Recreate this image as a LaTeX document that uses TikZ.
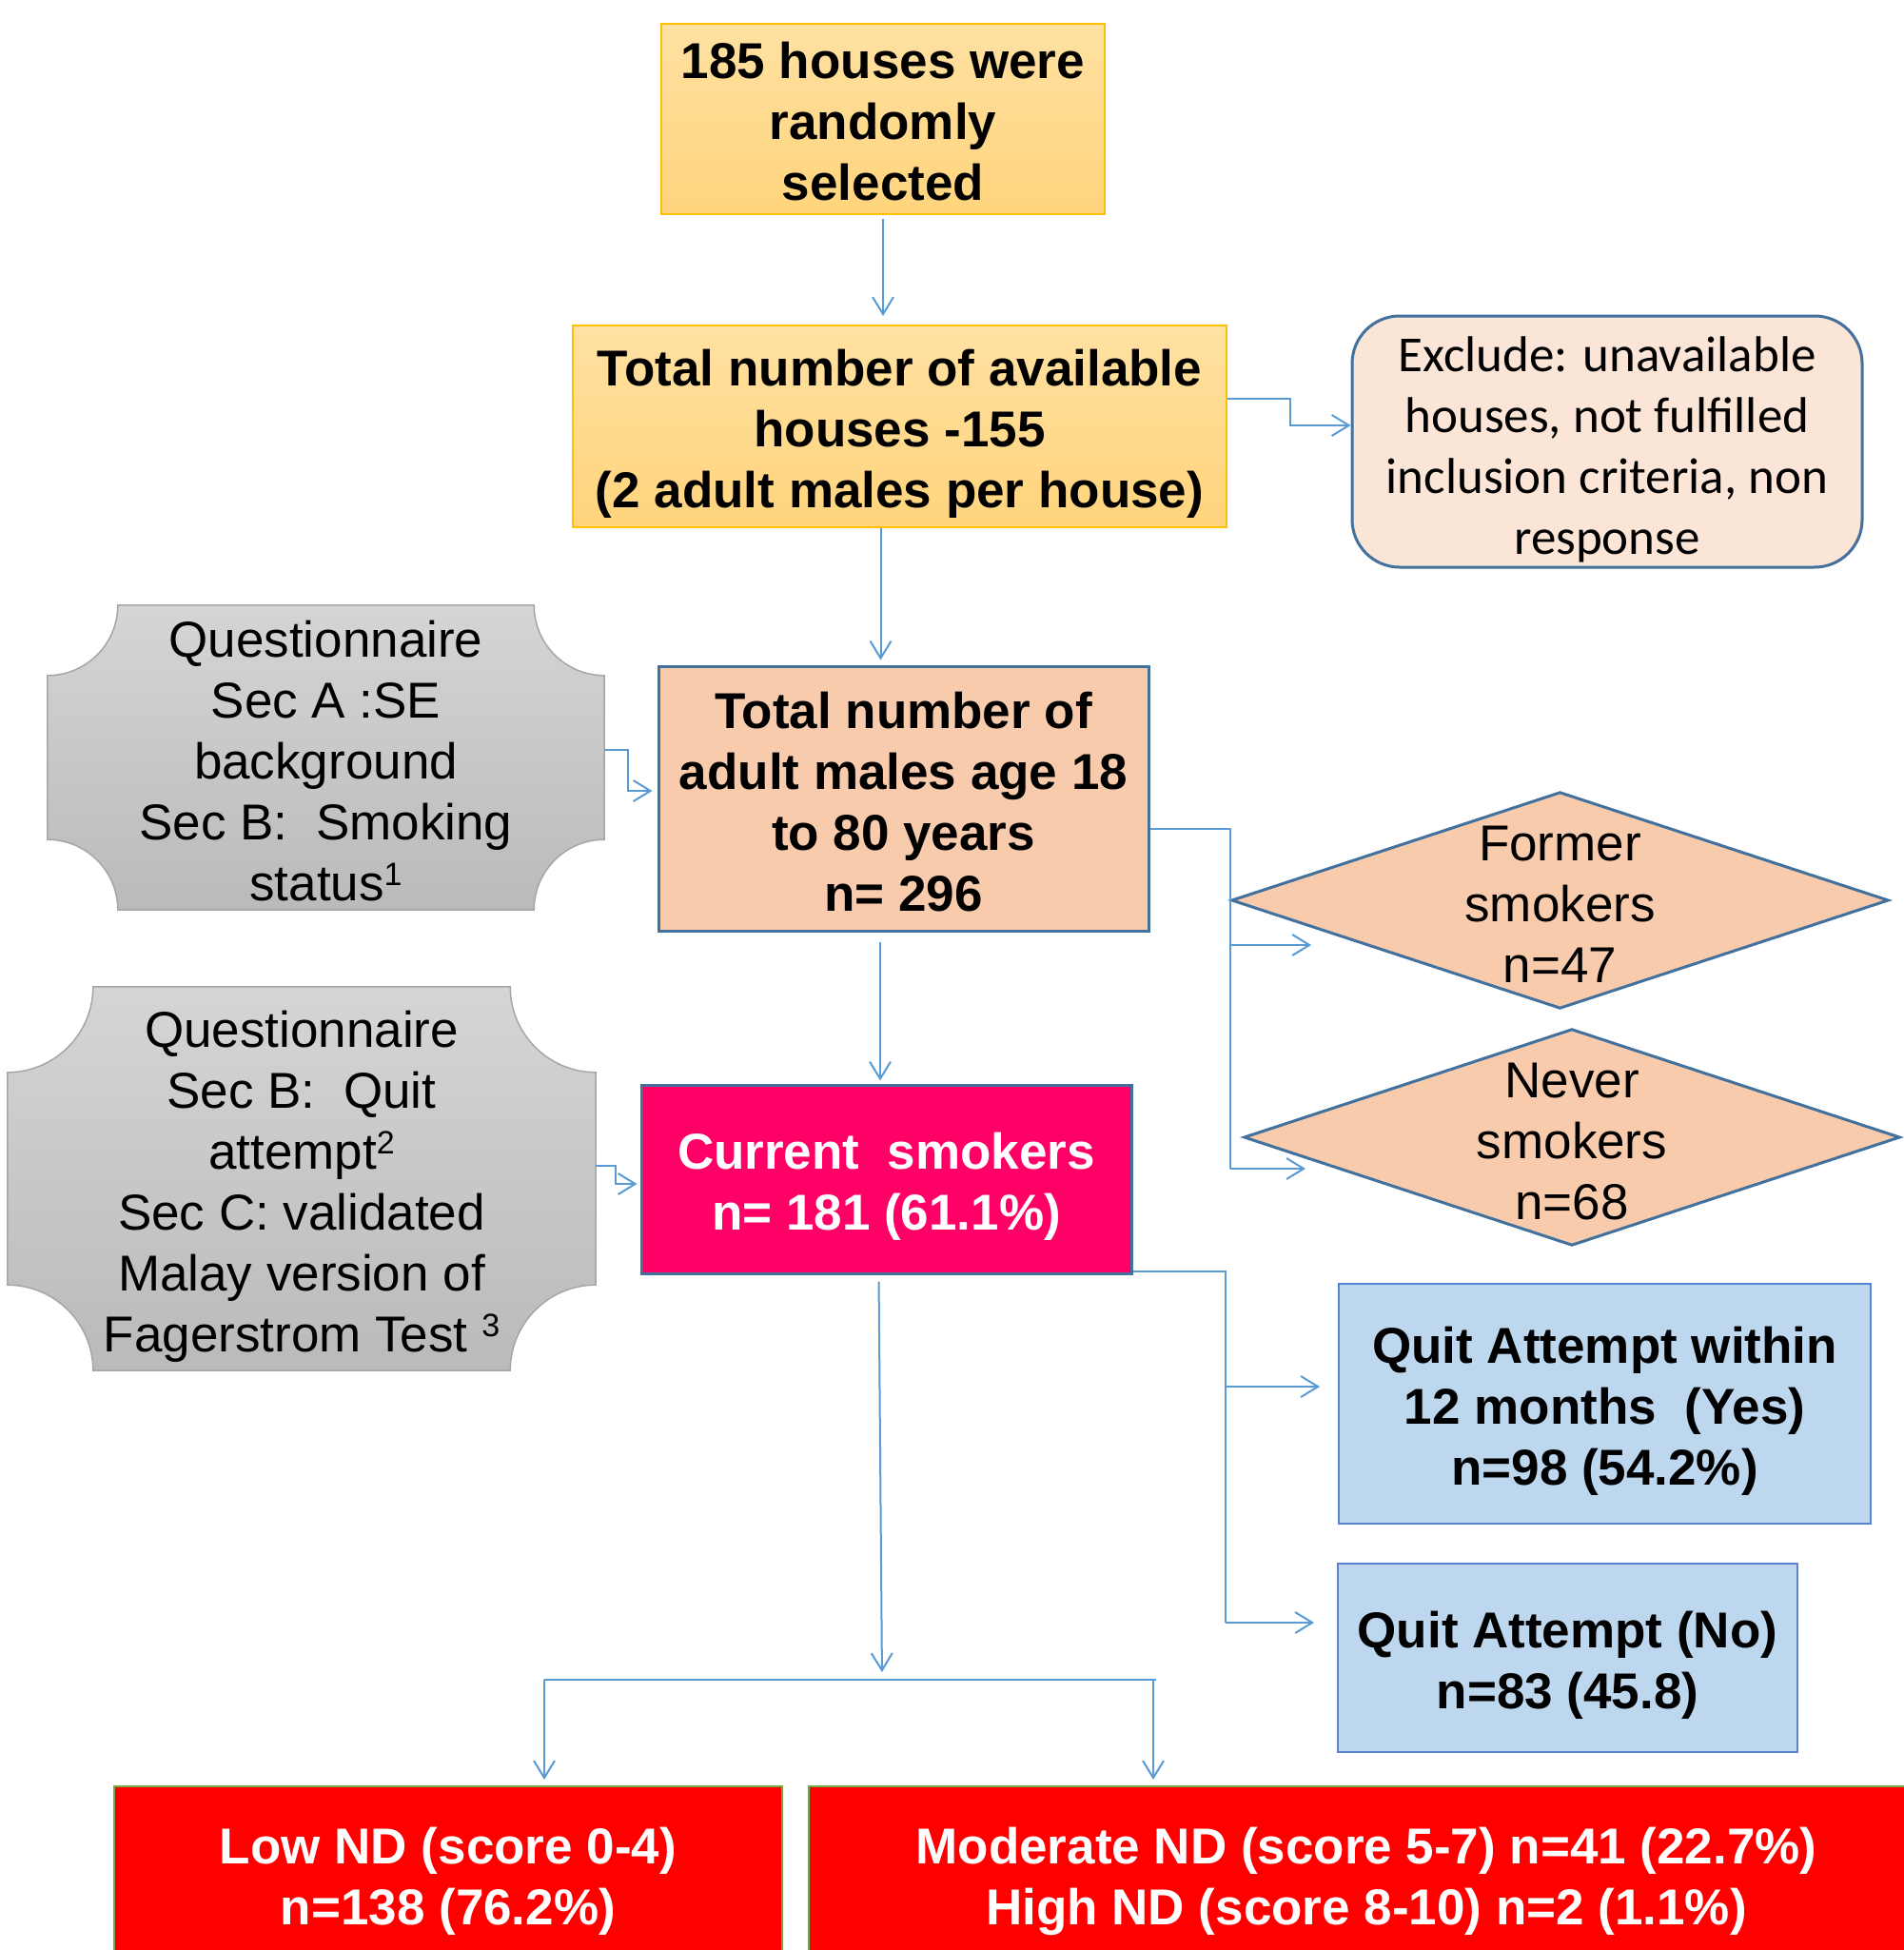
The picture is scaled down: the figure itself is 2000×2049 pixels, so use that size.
\documentclass[tikz,border=0pt]{standalone}
\usepackage{fontspec}
\setmainfont{Liberation Sans}
\newfontfamily\calibrifont{Carlito}
\usetikzlibrary{arrows.meta,backgrounds,calc}
\definecolor{conncol}{HTML}{5B9BD5}
\definecolor{goldline}{HTML}{FFC000}
\definecolor{goldtop}{HTML}{FFE1A2}
\definecolor{goldbot}{HTML}{FFD47C}
\definecolor{peach}{HTML}{F8CBAD}
\definecolor{lightpeach}{HTML}{FBE5D6}
\definecolor{steel}{HTML}{41719C}
\definecolor{hotpink}{HTML}{FF0066}
\definecolor{paleblue}{HTML}{BDD7EE}
\definecolor{paleblueline}{HTML}{5B84D0}
\definecolor{greenline}{HTML}{70AD47}
\definecolor{graytop}{HTML}{D5D5D5}
\definecolor{graybot}{HTML}{BABABA}
\definecolor{grayline}{HTML}{A6A6A6}
\newcommand\ts{\rule{0pt}{54pt}}
\newcommand\bs{\rule[-10pt]{0pt}{10pt}}
\newcommand\supnum[1]{\raisebox{16pt}{\fontsize{34}{34}\selectfont #1}}
\tikzset{
  base/.style={inner sep=0pt, align=center, font=\fontsize{53}{64}\selectfont},
  boldbox/.style={inner sep=0pt, align=center, font=\fontsize{53}{64}\selectfont\bfseries},
  goldbox/.style={draw=goldline, line width=2pt, top color=goldtop, bottom color=goldbot},
  peachbox/.style={draw=steel, line width=3pt, fill=peach},
  pinkbox/.style={draw=steel, line width=3pt, fill=hotpink, text=white},
  bluebox/.style={draw=paleblueline, line width=2.5pt, fill=paleblue},
  redbox/.style={draw=greenline, line width=2pt, fill=red, text=white},
  plaquestyle/.style={draw=grayline, line width=1.5pt, top color=graytop, bottom color=graybot},
  diamstyle/.style={draw=steel, line width=3pt, fill=peach},
  line/.style={draw=conncol, line width=2pt},
  conn/.style={draw=conncol, line width=2pt, -{Straight Barb[length=18pt,width=22pt,line width=2pt]}}
}
\newcommand\drawplaque[2]{%
  \pgfmathsetmacro\pr{#2}\pgfmathsetmacro\pk{0.552*#2}%
  \path[plaquestyle] ([xshift=\pr pt]#1.north west) -- ([xshift=-\pr pt]#1.north east)
   .. controls ([xshift=-\pr pt,yshift=-\pk pt]#1.north east) and ([xshift=-\pk pt,yshift=-\pr pt]#1.north east) .. ([yshift=-\pr pt]#1.north east)
   -- ([yshift=\pr pt]#1.south east)
   .. controls ([xshift=-\pk pt,yshift=\pr pt]#1.south east) and ([xshift=-\pr pt,yshift=\pk pt]#1.south east) .. ([xshift=-\pr pt]#1.south east)
   -- ([xshift=\pr pt]#1.south west)
   .. controls ([xshift=\pr pt,yshift=\pk pt]#1.south west) and ([xshift=\pk pt,yshift=\pr pt]#1.south west) .. ([yshift=\pr pt]#1.south west)
   -- ([yshift=-\pr pt]#1.north west)
   .. controls ([xshift=\pk pt,yshift=-\pr pt]#1.north west) and ([xshift=\pr pt,yshift=-\pk pt]#1.north west) .. ([xshift=\pr pt]#1.north west)
   -- cycle;}
\begin{document}
\begin{tikzpicture}[x=1pt,y=-1pt]
\begin{scope}[on background layer]
  \fill[white] (0,0) rectangle (2000,2049);
\end{scope}
\useasboundingbox (0,0) rectangle (2000,2049);

% boxes
\node[boldbox, goldbox, minimum width=466pt, minimum height=200pt] (top) at (928,125) {\ts 185 houses were\\randomly\\selected\bs};
\node[boldbox, goldbox, minimum width=687pt, minimum height=212pt] (avail) at (945.5,448) {\ts Total number of available\\houses -155\\(2 adult males per house)\bs};
\node[inner sep=0pt, align=center, font=\fontsize{53}{64}\calibrifont, draw=steel, line width=3pt, fill=lightpeach, rounded corners=50pt, minimum width=536pt, minimum height=264pt] (excl) at (1689,464) {\ts Exclude: unavailable\\houses, not fulfilled\\inclusion criteria, non\\response\bs};
\node[boldbox, peachbox, minimum width=515pt, minimum height=278pt] (total) at (949.5,839) {\ts Total number of\\adult males age 18\\to 80 years\\n= 296\bs};
\node[base, minimum width=585pt, minimum height=320pt] (q1) at (342.5,796) {\ts Questionnaire\\Sec A :SE\\background\\Sec B:~ Smoking\\status\supnum{1}\bs};
\node[base, minimum width=689pt, minimum height=226pt] (former) at (1639.5,946) {\ts Former\\smokers\\n=47\bs};
\node[base, minimum width=688pt, minimum height=226pt] (never) at (1652,1195) {\ts Never\\smokers\\n=68\bs};
\node[boldbox, pinkbox, minimum width=515pt, minimum height=198pt] (current) at (931.5,1239) {\ts Current~ smokers\\n= 181 (61.1\%)\bs};
\node[base, minimum width=618pt, minimum height=403pt] (q2) at (317,1238.5) {\ts Questionnaire\\Sec B:~ Quit\\attempt\supnum{2}\\Sec C: validated\\Malay version of\\Fagerstrom Test \supnum{3}\bs};
\node[boldbox, bluebox, minimum width=559pt, minimum height=252pt] (yes) at (1686.5,1475) {\ts Quit Attempt within\\12 months~ (Yes)\\n=98 (54.2\%)\bs};
\node[boldbox, bluebox, minimum width=483pt, minimum height=198pt] (no) at (1647.5,1742) {\ts Quit Attempt (No)\\n=83 (45.8)\bs};
\node[boldbox, redbox, minimum width=702pt, minimum height=184pt] (low) at (471,1969) {\ts Low ND (score 0-4)\\n=138 (76.2\%)\bs};
\node[boldbox, redbox, minimum width=1172pt, minimum height=184pt] (mod) at (1436,1969) {\ts Moderate ND (score 5-7) n=41 (22.7\%)\\High ND (score 8-10) n=2 (1.1\%)\bs};

% shapes behind texts
\begin{scope}[on background layer]
  \drawplaque{q1}{74}
  \drawplaque{q2}{90}
  \path[diamstyle] (former.north) -- (former.east) -- (former.south) -- (former.west) -- cycle;
  \path[diamstyle] (never.north) -- (never.east) -- (never.south) -- (never.west) -- cycle;
\end{scope}

% connectors
\draw[conn, shorten <=4pt, shorten >=9pt] (top.south) -- (top.south |- avail.north);
\draw[conn] ([yshift=29pt]avail.east) -- ++(66pt,0pt) |- ([yshift=17pt]excl.west);
\coordinate (a3) at ([xshift=-20pt]avail.south);
\draw[conn, shorten >=5pt] (a3) -- (a3 |- total.north);
\draw[conn, shorten >=5pt] ([yshift=8pt]q1.east) -- ++(25pt,0pt) |- ([yshift=8pt]total.west);

\coordinate (b1) at (1293,871);
\coordinate (fArr) at (1378,993);
\coordinate (nArr) at (1372,1228);
\draw[line] ([yshift=-32pt]total.east) -- (b1) -- (b1 |- nArr);
\draw[conn] (b1 |- fArr) -- (fArr);
\draw[conn] (b1 |- nArr) -- (nArr);

\coordinate (a6) at ([xshift=-24.5pt]total.south);
\draw[conn, shorten <=10pt, shorten >=3pt] (a6) -- (a6 |- current.north);
\draw[conn, shorten >=3pt] ([yshift=13.5pt]q2.east) -- ++(21pt,0pt) |- ([yshift=-5pt]current.west);

\coordinate (b2) at (1288,1336);
\coordinate (yArr) at (1387,1457);
\coordinate (noArr) at (1381,1705);
\draw[line] ([yshift=-97pt]current.east) -- (b2) -- (b2 |- noArr);
\draw[conn] (b2 |- yArr) -- (yArr);
\draw[conn] (b2 |- noArr) -- (noArr);

\coordinate (sp) at (927,1765);
\coordinate (hl) at (572,1765);
\coordinate (hr) at (1215,1765);
\draw[conn, shorten <=7pt, shorten >=8pt] ([xshift=-8pt]current.south) -- (sp);
\draw[line] (hl) -- (hr);
\draw[conn, shorten >=6pt] (hl) -- (hl |- low.north);
\draw[conn, shorten >=6pt] ([xshift=-3pt]hr) -- ([xshift=-3pt]hr |- mod.north);
\end{tikzpicture}
\end{document}
